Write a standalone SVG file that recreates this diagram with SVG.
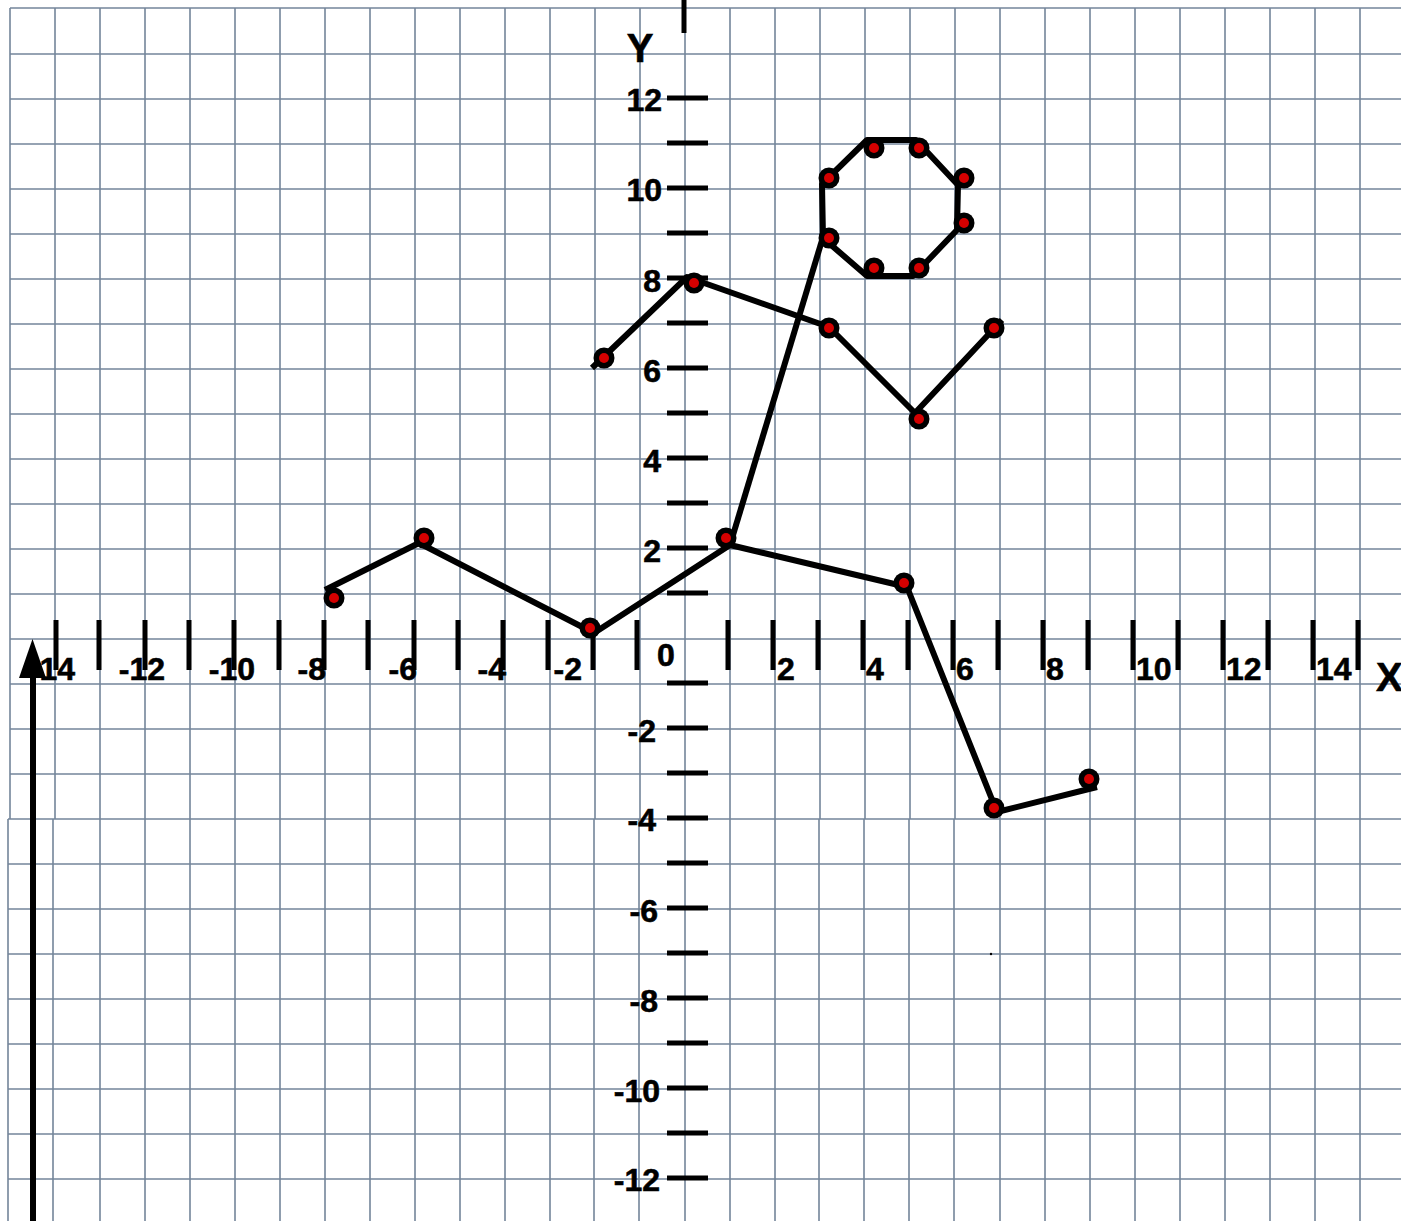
<svg xmlns="http://www.w3.org/2000/svg" width="1401" height="1221" viewBox="0 0 1401 1221">
<style>
.grid{stroke:#74859a;stroke-width:1.6;fill:none}
.tick{stroke:#000;stroke-width:5;fill:none}
.lbl{font-family:"Liberation Sans",Arial,sans-serif;font-weight:700;font-size:32px;fill:#000;stroke:#000;stroke-width:0.6}
.big{font-family:"Liberation Sans",Arial,sans-serif;font-weight:700;font-size:40px;fill:#000;stroke:#000;stroke-width:0.6}
.edge{stroke:#000;stroke-width:6;fill:none;stroke-linejoin:round;stroke-linecap:butt}
.dot-o{fill:#000}
.dot-i{fill:#d40000}
</style>
<defs>
<g id="pt"><circle r="10.5" class="dot-o"/><circle r="5" class="dot-i"/></g>
</defs>
<rect width="1401" height="1221" fill="#fff"/>
<g id="grid">
<path class="grid" d="M10 8V819M55 8V819M100 8V819M145 8V819M190 8V819M235 8V819M280 8V819M325 8V819M370 8V819M415 8V819M460 8V819M505 8V819M550 8V819M595 8V819M640 8V819M685 8V819M730 8V819M775 8V819M820 8V819M865 8V819M910 8V819M955 8V819M1000 8V819M1045 8V819M1090 8V819M1135 8V819M1180 8V819M1225 8V819M1270 8V819M1315 8V819M1360 8V819"/>
<path class="grid" d="M10 8H1401M10 54H1401M10 99H1401M10 144H1401M10 189H1401M10 234H1401M10 279H1401M10 324H1401M10 369H1401M10 414H1401M10 459H1401M10 504H1401M10 549H1401M10 594H1401M10 639H1401M10 684H1401M10 729H1401M10 774H1401"/>
<path class="grid" d="M8 819H1401M8 864H1401M8 909H1401M8 954H1401M8 999H1401M8 1044H1401M8 1089H1401M8 1134H1401M8 1179H1401"/>
<path class="grid" d="M8 819V1221M53 819V1221M100 819V1221M145 819V1221M190 819V1221M235 819V1221M280 819V1221M325 819V1221M370 819V1221M415 819V1221M460 819V1221M505 819V1221M550 819V1221M594 819V1221M639 819V1221M685 819V1221M730 819V1221M775 819V1221M819 819V1221M864 819V1221M909 819V1221M954 819V1221M1000 819V1221M1045 819V1221M1090 819V1221M1135 819V1221M1180 819V1221M1225 819V1221M1270 819V1221M1315 819V1221M1360 819V1221"/>
<circle cx="991" cy="954" r="1.2" fill="#000"/>
</g>
<g id="axes">
<path class="tick" d="M684 0V33"/>
<path class="tick" d="M667 98H708M667 143H708M667 188H708M667 233H708M667 278H708M667 323H708M667 368H708M667 413H708M667 458H708M667 503H708M667 548H708M667 593H708M667 683H708M667 728H708M667 773H708M667 818H708M667 863H708M667 908H708M667 953H708M667 998H708M667 1043H708M667 1088H708M667 1133H708M667 1178H708"/>
<path class="tick" d="M56 620V670M99 620V670M145 620V670M189 620V670M234 620V670M279 620V670M324 620V670M368 620V670M414 620V670M458 620V670M503 620V670M548 620V670M593 620V670M637 620V670M728 620V670M773 620V670M818 620V670M863 620V670M908 620V670M953 620V670M998 620V670M1043 620V670M1088 620V670M1133 620V670M1178 620V670M1223 620V670M1268 620V670M1313 620V670M1358 620V670"/>
<g id="y-labels" class="lbl" text-anchor="end">
<text x="662" y="111">12</text>
<text x="662" y="201">10</text>
<text x="661" y="292">8</text>
<text x="661" y="382">6</text>
<text x="661" y="472">4</text>
<text x="661" y="562">2</text>
<text x="656" y="742">-2</text>
<text x="656" y="831">-4</text>
<text x="658" y="922">-6</text>
<text x="658" y="1012">-8</text>
<text x="660" y="1102">-10</text>
<text x="660" y="1191">-12</text>
</g>
<g id="x-labels" class="lbl">
<text x="75" y="680" text-anchor="end">-14</text>
<text x="165" y="680" text-anchor="end">-12</text>
<text x="255" y="680" text-anchor="end">-10</text>
<text x="326" y="680" text-anchor="end">-8</text>
<text x="417" y="680" text-anchor="end">-6</text>
<text x="506" y="680" text-anchor="end">-4</text>
<text x="582" y="680" text-anchor="end">-2</text>
<text x="657" y="666">0</text>
<text x="777" y="680">2</text>
<text x="866" y="680">4</text>
<text x="956" y="680">6</text>
<text x="1046" y="680">8</text>
<text x="1136" y="680">10</text>
<text x="1226" y="680">12</text>
<text x="1316" y="680">14</text>
</g>
<text class="big" x="640" y="62" text-anchor="middle">Y</text>
<text class="big" x="1376" y="691">X</text>
<g id="arrow">
<path d="M33 676V1221" stroke="#000" stroke-width="6" fill="none"/>
<polygon points="32.5,639 19,678 46,678" fill="#000"/>
</g>
</g>
<g id="connectors">
<polyline class="edge" points="592,368 687,277 829,327 915,413 1002,320"/>
<polygon class="edge" points="823,238 822,184 867,140 916,140 958,185 957,230 913,276 867,276"/>
<polyline class="edge" points="325,590 419,543 594,633 730,545 907,587 997,812 1097,787"/>
<polyline class="edge" points="730,545 823,237"/>
</g>
<g id="nodes">
<use id="p1" href="#pt" x="604" y="358"/>
<use id="p2" href="#pt" x="694" y="283"/>
<use id="p3" href="#pt" x="829" y="328"/>
<use id="p4" href="#pt" x="919" y="419"/>
<use id="p5" href="#pt" x="994" y="328"/>
<use id="o1" href="#pt" x="829" y="178"/>
<use id="o2" href="#pt" x="874" y="148"/>
<use id="o3" href="#pt" x="919" y="148"/>
<use id="o4" href="#pt" x="964" y="178"/>
<use id="o5" href="#pt" x="964" y="223"/>
<use id="o6" href="#pt" x="919" y="268"/>
<use id="o7" href="#pt" x="874" y="268"/>
<use id="o8" href="#pt" x="829" y="238"/>
<use id="q1" href="#pt" x="334" y="598"/>
<use id="q2" href="#pt" x="424" y="538"/>
<use id="q3" href="#pt" x="590" y="628"/>
<use id="q4" href="#pt" x="726" y="538"/>
<use id="q5" href="#pt" x="904" y="583"/>
<use id="q6" href="#pt" x="994" y="808"/>
<use id="q7" href="#pt" x="1089" y="779"/>
</g>
</svg>
